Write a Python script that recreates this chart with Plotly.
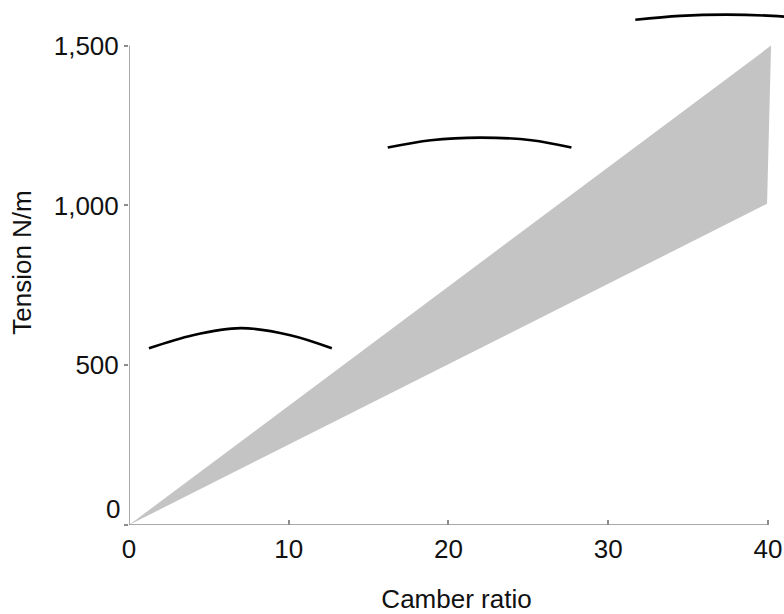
import plotly.graph_objects as go

# Shaded band: tension range vs camber ratio
band_x = [0, 40.2, 39.95, 0]
band_y = [0, 1500, 1005, 0]

# Schematic sail-camber arcs
arc1_x = [1.25, 4.0, 7.0, 10.1, 12.7]
arc1_y = [553, 594, 616, 594, 553]
arc2_x = [16.2, 18.9, 22.0, 25.2, 27.7]
arc2_y = [1181, 1204, 1212, 1204, 1181]
arc3_x = [31.7, 34.5, 37.4, 40.3, 43.1]
arc3_y = [1581, 1593, 1597, 1593, 1581]

x_ticks = [0, 10, 20, 30, 40]
x_ticklabels = ["0", "10", "20", "30", "40"]
y_ticks = [0, 500, 1000, 1500]
y_ticklabels = ["", "500", "1,000", "1,500"]
y_zero_label = "0"

FONT = "Liberation Sans, Arial, Helvetica, sans-serif"
FS = 26
AXIS_COLOR = "#8c8c8c"

fig = go.Figure()
fig.add_trace(go.Scatter(x=band_x, y=band_y, mode="lines", fill="toself",
                         fillcolor="#c4c4c4", line=dict(width=0, color="#c4c4c4"),
                         hoverinfo="skip", showlegend=False))
for ax, ay in [(arc1_x, arc1_y), (arc2_x, arc2_y), (arc3_x, arc3_y)]:
    fig.add_trace(go.Scatter(x=ax, y=ay, mode="lines",
                             line=dict(color="black", width=2.6, shape="spline"),
                             showlegend=False, hoverinfo="skip"))

# axis lines limited to the data extent
fig.add_shape(type="line", x0=0, x1=x_ticks[-1], y0=0, y1=0, xref="x", yref="y",
              line=dict(color=AXIS_COLOR, width=1.5), layer="above")
fig.add_shape(type="line", x0=0, x1=0, y0=0, y1=y_ticks[-1], xref="x", yref="y",
              line=dict(color=AXIS_COLOR, width=1.5), layer="above")

fig.add_annotation(x=0, y=0, xref="x", yref="y", text=y_zero_label, showarrow=False,
                   xanchor="right", yanchor="middle", xshift=-7, yshift=16,
                   font=dict(family=FONT, size=FS, color="#111"))

fig.update_layout(
    width=784, height=614,
    margin=dict(l=129, r=0, t=0, b=89, autoexpand=False),
    plot_bgcolor="white", paper_bgcolor="white",
    font=dict(family=FONT, size=FS, color="#111"),
    xaxis=dict(range=[0, 41.01], tickvals=x_ticks, ticktext=x_ticklabels,
               showgrid=False, zeroline=False, showline=False,
               ticks="inside", ticklen=5, tickwidth=1.5, tickcolor=AXIS_COLOR,
               ticklabelstandoff=6, automargin=False,
               title=dict(text="Camber ratio", standoff=27,
                          font=dict(family=FONT, size=FS, color="#111"))),
    yaxis=dict(range=[0, 1642.7], tickvals=y_ticks, ticktext=y_ticklabels,
               showgrid=False, zeroline=False, showline=False,
               ticks="outside", ticklen=4, tickwidth=1.5, tickcolor=AXIS_COLOR,
               ticklabelstandoff=0, automargin=False,
               title=dict(text="Tension N/m", standoff=14,
                          font=dict(family=FONT, size=FS, color="#111"))),
)

fig.write_html("out.html", config={"displayModeBar": False},
               post_script="document.body.style.margin='0';document.body.style.overflow='hidden';")
